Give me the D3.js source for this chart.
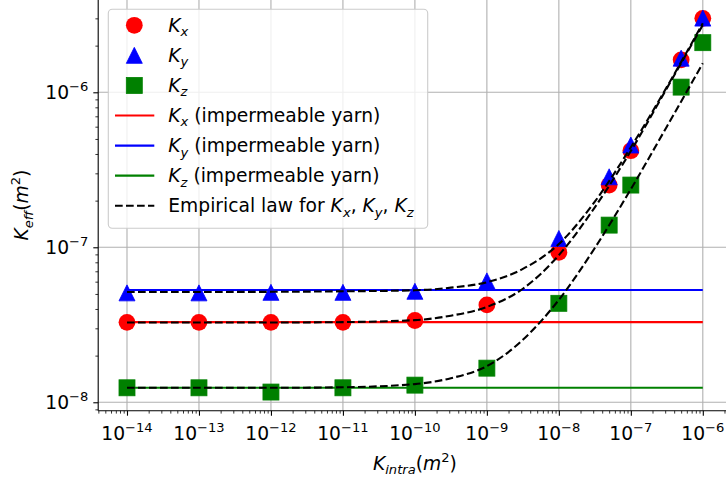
<!DOCTYPE html>
<html>
<head>
<meta charset="utf-8">
<script src="https://cdn.jsdelivr.net/npm/d3@7"></script>
<style>
  body { margin: 0; background: #fff; }
  text { font-family: "DejaVu Sans", sans-serif; fill: #000; white-space: pre; }
</style>
</head>
<body>
<svg id="chart" width="726" height="479"></svg>
<script>
// Intra-yarn permeability (m^2) of each simulation
const kIntra = [1e-14, 1e-13, 1e-12, 1e-11, 1e-10, 1e-9, 1e-8, 5e-8, 1e-7, 5e-7, 1e-6];
// Effective permeability components (m^2)
const kx = [3.28e-8, 3.28e-8, 3.28e-8, 3.28e-8, 3.37e-8, 4.25e-8, 9.29e-8, 2.52e-7, 4.2e-7, 1.62e-6, 3.0e-6];
const ky = [5.08e-8, 5.08e-8, 5.12e-8, 5.12e-8, 5.2e-8, 6.07e-8, 1.14e-7, 2.85e-7, 4.57e-7, 1.66e-6, 3.01e-6];
const kz = [1.24e-8, 1.24e-8, 1.164e-8, 1.24e-8, 1.29e-8, 1.66e-8, 4.35e-8, 1.39e-7, 2.52e-7, 1.08e-6, 2.09e-6];

// Effective permeability with impermeable yarns (m^2)
const impermeableX = [1e-14, 1e-6];
const kxImp = [3.29e-8, 3.29e-8];
const kyImp = [5.3e-8, 5.3e-8];
const kzImp = [1.24e-8, 1.24e-8];

// Empirical law, sampled along the intra-yarn permeability range
const lawIntra = [1e-14, 1e-13, 1e-12, 1e-11, 1e-10, 3.16e-10, 1e-9, 3.16e-9, 1e-8, 3.16e-8, 1e-7, 3.16e-7, 1e-6];
const lawX = [3.27e-8, 3.27e-8, 3.27e-8, 3.29e-8, 3.39e-8, 3.62e-8, 4.12e-8, 5.4e-8, 8.9e-8, 1.81e-7, 4.18e-7, 1.06e-6, 2.72e-6];
const lawY = [5.15e-8, 5.15e-8, 5.16e-8, 5.2e-8, 5.28e-8, 5.49e-8, 5.95e-8, 7.25e-8, 1.05e-7, 1.97e-7, 4.42e-7, 1.08e-6, 2.79e-6];
const lawZ = [1.24e-8, 1.24e-8, 1.24e-8, 1.25e-8, 1.31e-8, 1.43e-8, 1.71e-8, 2.53e-8, 4.58e-8, 9.9e-8, 2.37e-7, 6.0e-7, 1.54e-6];

// Tick exponents
const xExponents = [-14, -13, -12, -11, -10, -9, -8, -7, -6];
const yExponents = [-8, -7, -6];

const FS = 18.7;
const svg = d3.select("#chart");

const plot = { left: 98.2, right: 731.6, top: -0.7, bottom: 410.8 };
const x = d3.scaleLog().domain([Math.pow(10, -14.4), Math.pow(10, -5.6)]).range([plot.left, plot.right]);
const y = d3.scaleLog().domain([Math.pow(10, -8.055), Math.pow(10, -5.4)]).range([plot.bottom, plot.top]);

svg.append("defs").append("clipPath").attr("id", "plotClip")
  .append("rect")
  .attr("x", plot.left).attr("y", plot.top)
  .attr("width", plot.right - plot.left).attr("height", plot.bottom - plot.top);

// Math-style text: italic symbols with sub/superscripts
function addMath(textSel, parts, fs) {
  let shift = 0;
  parts.forEach(p => {
    const target = p.pos === "sub" ? fs * 0.24 : p.pos === "sup" ? -fs * 0.42 : 0;
    textSel.append("tspan")
      .attr("dy", target - shift)
      .style("font-size", (p.pos ? fs * 0.7 : fs) + "px")
      .style("font-style", p.it ? "italic" : "normal")
      .text(p.t);
    shift = target;
  });
  return textSel;
}

const majorX = xExponents.map(e => Math.pow(10, e));
const majorY = yExponents.map(e => Math.pow(10, e));
const minorX = [];
for (let e = -15; e <= -6; e++) for (let m = 2; m <= 9; m++) {
  const v = m * Math.pow(10, e);
  if (v >= x.domain()[0] && v <= x.domain()[1]) minorX.push(v);
}
const minorY = [];
for (let e = -9; e <= -6; e++) for (let m = 2; m <= 9; m++) {
  const v = m * Math.pow(10, e);
  if (v >= y.domain()[0] && v <= y.domain()[1]) minorY.push(v);
}

// Grid
const grid = svg.append("g").attr("clip-path", "url(#plotClip)");
grid.selectAll("line.gx").data(majorX).join("line")
  .attr("x1", d => x(d)).attr("x2", d => x(d))
  .attr("y1", plot.top).attr("y2", plot.bottom)
  .attr("stroke", "#b0b0b0").attr("stroke-width", 1.1);
grid.selectAll("line.gy").data(majorY).join("line")
  .attr("y1", d => y(d)).attr("y2", d => y(d))
  .attr("x1", plot.left).attr("x2", plot.right)
  .attr("stroke", "#b0b0b0").attr("stroke-width", 1.1);

const marks = svg.append("g").attr("clip-path", "url(#plotClip)");
const MS = 16;
const triPath = `M0,${-MS / 2}L${MS / 2},${MS / 2}L${-MS / 2},${MS / 2}Z`;

// Measured points
marks.selectAll("circle.kx").data(kIntra).join("circle")
  .attr("cx", d => x(d)).attr("cy", (d, i) => y(kx[i])).attr("r", MS / 2 + 0.4)
  .attr("fill", "red");
marks.selectAll("path.ky").data(kIntra).join("path")
  .attr("transform", (d, i) => `translate(${x(d)},${y(ky[i])})`)
  .attr("d", triPath).attr("fill", "blue").attr("stroke", "blue").attr("stroke-width", 0.8);
marks.selectAll("rect.kz").data(kIntra).join("rect")
  .attr("x", d => x(d) - MS / 2).attr("y", (d, i) => y(kz[i]) - MS / 2)
  .attr("width", MS).attr("height", MS)
  .attr("fill", "green").attr("stroke", "green").attr("stroke-width", 0.8);

// Impermeable-yarn reference levels
const line = d3.line().x(d => x(d[0])).y(d => y(d[1]));
[[kxImp, "red"], [kyImp, "blue"], [kzImp, "green"]].forEach(([vals, c]) => {
  marks.append("path")
    .attr("d", line(impermeableX.map((v, i) => [v, vals[i]])))
    .attr("fill", "none").attr("stroke", c).attr("stroke-width", 2.1);
});

// Empirical law curves
const curve = d3.line().x(d => x(d[0])).y(d => y(d[1])).curve(d3.curveMonotoneX);
[lawX, lawY, lawZ].forEach(vals => {
  marks.append("path")
    .attr("d", curve(lawIntra.map((v, i) => [v, vals[i]])))
    .attr("fill", "none").attr("stroke", "#000").attr("stroke-width", 2.1)
    .attr("stroke-dasharray", "7.7,3.3");
});

// Axes frame
const axes = svg.append("g");
[[plot.left, plot.bottom, plot.right, plot.bottom], [plot.left, plot.top, plot.left, plot.bottom],
 [plot.right, plot.top, plot.right, plot.bottom], [plot.left, plot.top, plot.right, plot.top]].forEach(s => {
  axes.append("line").attr("x1", s[0]).attr("y1", s[1]).attr("x2", s[2]).attr("y2", s[3])
    .attr("stroke", "#000").attr("stroke-width", 1.1);
});

const xAxisMajor = d3.axisBottom(x).tickValues(majorX).tickSize(4.9).tickFormat("");
const xAxisMinor = d3.axisBottom(x).tickValues(minorX).tickSize(2.8).tickFormat("");
const yAxisMajor = d3.axisLeft(y).tickValues(majorY).tickSize(4.9).tickFormat("");
const yAxisMinor = d3.axisLeft(y).tickValues(minorY).tickSize(2.8).tickFormat("");

function styleAxis(g, w) {
  g.select(".domain").remove();
  g.selectAll(".tick line").attr("stroke", "#000").attr("stroke-width", w);
}
axes.append("g").attr("transform", `translate(0,${plot.bottom})`).call(xAxisMajor).call(g => styleAxis(g, 1.1));
axes.append("g").attr("transform", `translate(0,${plot.bottom})`).call(xAxisMinor).call(g => styleAxis(g, 0.8));
axes.append("g").attr("transform", `translate(${plot.left},0)`).call(yAxisMajor).call(g => styleAxis(g, 1.1));
axes.append("g").attr("transform", `translate(${plot.left},0)`).call(yAxisMinor).call(g => styleAxis(g, 0.8));

// Tick labels
xExponents.forEach(e => {
  const t = svg.append("text").attr("x", x(Math.pow(10, e))).attr("y", 440)
    .attr("text-anchor", "middle");
  addMath(t, [{ t: "10" }, { t: "\u2212" + Math.abs(e), pos: "sup" }], FS);
});
yExponents.forEach(e => {
  const t = svg.append("text").attr("x", plot.left - 9.8).attr("y", y(Math.pow(10, e)) + 7)
    .attr("text-anchor", "end");
  addMath(t, [{ t: "10" }, { t: "\u2212" + Math.abs(e), pos: "sup" }], FS);
});

// Axis titles
addMath(svg.append("text").attr("x", (plot.left + plot.right) / 2).attr("y", 470).attr("text-anchor", "middle"),
  [{ t: "K", it: true }, { t: "intra", it: true, pos: "sub" }, { t: "(" }, { t: "m", it: true }, { t: "2", pos: "sup" }, { t: ")" }], FS);
addMath(svg.append("text").attr("transform", `translate(28,${(plot.top + plot.bottom) / 2}) rotate(-90)`).attr("text-anchor", "middle"),
  [{ t: "K", it: true }, { t: "eff", it: true, pos: "sub" }, { t: "(" }, { t: "m", it: true }, { t: "2", pos: "sup" }, { t: ")" }], FS);

// Legend
const legend = svg.append("g");
legend.append("rect").attr("x", 108.3).attr("y", 9.3).attr("width", 319.4).attr("height", 219)
  .attr("rx", 4).attr("fill", "#fff").attr("fill-opacity", 0.8)
  .attr("stroke", "#cccccc").attr("stroke-width", 1.1);

const kSym = (s) => [{ t: "K", it: true }, { t: s, it: true, pos: "sub" }];
const legendItems = [
  { kind: "circle", color: "red", label: kSym("x") },
  { kind: "tri", color: "blue", label: kSym("y") },
  { kind: "square", color: "green", label: kSym("z") },
  { kind: "line", color: "red", label: kSym("x").concat([{ t: " (impermeable yarn)" }]) },
  { kind: "line", color: "blue", label: kSym("y").concat([{ t: " (impermeable yarn)" }]) },
  { kind: "line", color: "green", label: kSym("z").concat([{ t: " (impermeable yarn)" }]) },
  { kind: "dash", color: "#000", label: [{ t: "Empirical law for " }].concat(kSym("x"), [{ t: ", " }], kSym("y"), [{ t: ", " }], kSym("z")) }
];
legendItems.forEach((item, i) => {
  const cy = 25.3 + i * 30.07;
  const g = legend.append("g");
  if (item.kind === "circle") {
    g.append("circle").attr("cx", 134.3).attr("cy", cy).attr("r", MS / 2 + 0.4).attr("fill", item.color);
  } else if (item.kind === "tri") {
    g.append("path").attr("transform", `translate(134.3,${cy})`).attr("d", triPath)
      .attr("fill", item.color).attr("stroke", item.color).attr("stroke-width", 0.8);
  } else if (item.kind === "square") {
    g.append("rect").attr("x", 134.3 - MS / 2).attr("y", cy - MS / 2).attr("width", MS).attr("height", MS)
      .attr("fill", item.color).attr("stroke", item.color).attr("stroke-width", 0.8);
  } else {
    g.append("line").attr("x1", 115).attr("x2", 154.3).attr("y1", cy).attr("y2", cy)
      .attr("stroke", item.color).attr("stroke-width", 2.1)
      .attr("stroke-dasharray", item.kind === "dash" ? "7.7,3.3" : null);
  }
  addMath(g.append("text").attr("x", 168.3).attr("y", cy + 6.5), item.label, FS);
});
</script>
</body>
</html>
